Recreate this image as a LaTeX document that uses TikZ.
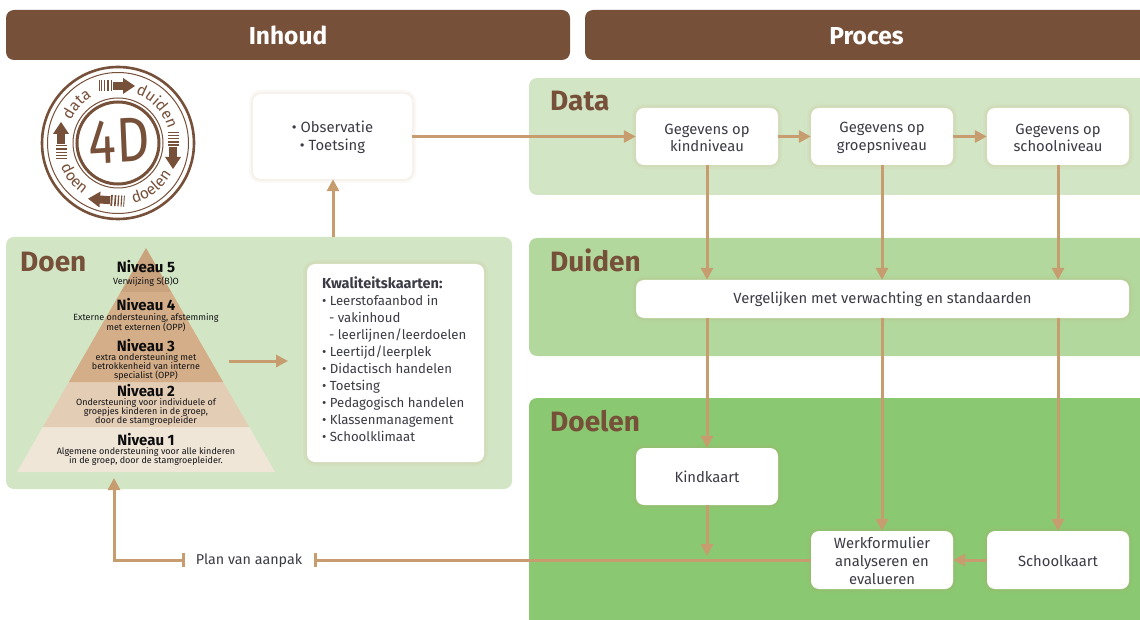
\documentclass[tikz,border=0pt]{standalone}
\usepackage{fontspec}
\setmainfont{Fira Sans}
\usetikzlibrary{calc,arrows.meta,decorations.text}
\definecolor{hdr}{HTML}{775039}
\definecolor{pdata}{HTML}{D2E6C5}
\definecolor{pduiden}{HTML}{B2D89D}
\definecolor{pdoelen}{HTML}{8AC872}
\definecolor{arr}{HTML}{C79C6E}
\definecolor{ink}{HTML}{3B3B45}
\definecolor{nivA}{HTML}{F0E6D8}
\definecolor{nivB}{HTML}{E4CDB5}
\definecolor{nivC}{HTML}{D3AE88}
\newcommand{\fsz}[1]{\fontsize{#1}{#1}\selectfont}
\newcommand{\tl}{\rule{0pt}{13pt}}
\tikzset{
  header/.style={fill=hdr,rounded corners=8pt,text=white,font=\fsz{24.5}\fontseries{sb}\selectfont},
  panel/.style={rounded corners=8pt},
  ptitle/.style={text=hdr,font=\fsz{28}\fontseries{sb}\selectfont,anchor=west,inner sep=0pt},
  whitebox/.style={fill=white,rounded corners=8pt,text=ink,font=\fsz{14.8}\selectfont,align=center,inner sep=0pt,
    preaction={draw=arr,line width=8pt,opacity=.06},preaction={draw=arr,line width=4pt,opacity=.08}},
  conn/.style={draw=arr,line width=3pt,-{Triangle[length=12pt,width=12pt]}},
  line/.style={draw=arr,line width=3pt},
  niv/.style={font=\fsz{15}\fontseries{sb}\selectfont,text=black!80!ink,inner sep=0pt},
  nivsub/.style={font=\fsz{9}\selectfont,text=black!70!ink,align=center,inner sep=0pt},
  stamptext/.style={decorate,decoration={text along path,text={|\fsz{15.5}\fontseries{m}\selectfont\color{hdr}|#1},text align=center}},
}
\pgfmathsetmacro{\pk}{129/224}
\newcommand{\layer}[3]{\fill[#3] ({146-(#1-248)*\pk},#1) -- ({146+(#1-248)*\pk},#1) -- ({146+(#2-248)*\pk},#2) -- ({146-(#2-248)*\pk},#2) -- cycle;}
% stamp arrow: pointing along +x in local frame
\newcommand{\stamparrow}[3]{\begin{scope}[shift={(#1,#2)},rotate=#3,x=1pt,y=1pt,hdr]
  \fill (-3,-4) rectangle (7,4);
  \fill (7,-8) -- (19,0) -- (7,8) -- cycle;
  \foreach \sx/\w in {-5.5/1.8,-9/1.6,-12/1.3,-15/1.1,-17.5/.9}{\fill (\sx,-5.5) rectangle ++(\w,11);}
\end{scope}}
\begin{document}
\begin{tikzpicture}[x=1pt,y=-1pt]
\useasboundingbox (0,0) rectangle (1140,620);
\fill[white] (0,0) rectangle (1140,620);
% headers
\node[header,minimum width=564pt,minimum height=50pt] (inhoud) at (288,35) {\rule{0pt}{19pt}Inhoud};
\node[header,minimum width=563pt,minimum height=50pt] (proces) at (866.5,35) {\rule{0pt}{19pt}Proces};
% panels
\fill[pdata,panel] (6,237) rectangle (512,489);
\fill[pdata,panel] (529,78) rectangle (1150,195);
\fill[pduiden,panel] (529,238) rectangle (1150,356);
\fill[pdoelen,panel] (529,398) rectangle (1150,640);
\node[ptitle] (tdoen) at (20,262) {Doen};
\node[ptitle] (tdata) at (550,101) {Data};
\node[ptitle] (tduiden) at (550,260) {Duiden};
\node[ptitle] (tdoelen) at (550,421) {Doelen};
% logo
\draw[hdr,line width=2.6pt] (118,143) circle (76);
\draw[hdr,line width=1pt] (118,143) circle (70.5);
\draw[hdr,line width=3pt] (118,143) circle (41);
\draw[hdr,line width=1pt] (118,143) circle (45);
\node[text=hdr,font=\fsz{63}\fontseries{m}\selectfont,xscale=.82,rotate=3,inner sep=0pt] (fourd) at (119,141) {4D};
\stamparrow{116}{86}{0}\stamparrow{173}{150}{-90}\stamparrow{107}{200}{-184}\stamparrow{61}{141}{-270}
\begin{scope}[shift={(118,143)},x=1pt,y=1pt]
\path[stamptext=data] (167:52.5) arc[start angle=167,end angle=107,radius=52.5];
\path[stamptext=duiden] (75:52) arc[start angle=75,end angle=11,radius=52];
\path[stamptext=doelen] (-85:62) arc[start angle=-85,end angle=-21,radius=62];
\path[stamptext=doen] (-170:62) arc[start angle=-170,end angle=-112,radius=62];
\end{scope}
% pyramid
\layer{427}{472}{nivA}
\layer{382}{427}{nivB}
\layer{337}{382}{nivC}
\layer{292}{337}{nivC}
\layer{248}{292}{nivC!88!hdr}
\node[niv] (n5) at (146,267) {Niveau 5};
\node[nivsub] (s5) at (146,281.5) {Verwijzing S(B)O};
\node[niv] (n4) at (146,305) {Niveau 4};
\node[nivsub] (s4) at (146,322.5) {Externe ondersteuning, afstemming\\met externen (OPP)};
\node[niv] (n3) at (146,346) {Niveau 3};
\node[nivsub] (s3) at (146,367) {extra ondersteuning met\\betrokkenheid van interne\\specialist (OPP)};
\node[niv] (n2) at (146,391) {Niveau 2};
\node[nivsub] (s2) at (146,412) {Ondersteuning voor individuele of\\groepjes kinderen in  de groep,\\door de stamgroepleider};
\node[niv] (n1) at (146,440) {Niveau 1};
\node[nivsub] (s1) at (146,456.5) {Algemene ondersteuning voor  alle kinderen\\in de groep, door de stamgroepleider.};
% boxes
\node[whitebox,minimum width=159pt,minimum height=85pt] (obs) at (332.5,136.5) {\tl\textbullet{} Observatie\\[3pt]\textbullet{} Toetsing};
\node[whitebox,minimum width=142pt,minimum height=57pt] (kind) at (707,136.5) {\tl Gegevens op\\[3pt]kindniveau};
\node[whitebox,minimum width=142pt,minimum height=57pt] (groep) at (882,136.5) {\tl Gegevens op\\[3pt]groepsniveau};
\node[whitebox,minimum width=142pt,minimum height=57pt] (school) at (1058,136.5) {\tl Gegevens op\\[3pt]schoolniveau};
\node[whitebox,minimum width=493pt,minimum height=38pt] (verg) at (882.5,299) {Vergelijken met verwachting en standaarden};
\node[whitebox,minimum width=142pt,minimum height=57pt] (kk) at (707,476.5) {Kindkaart};
\node[whitebox,minimum width=142pt,minimum height=58pt] (werk) at (882,560) {\tl Werkformulier\\[3pt]analyseren en\\[3pt]evalueren};
\node[whitebox,minimum width=142pt,minimum height=58pt] (sk) at (1058,560) {\tl Schoolkaart};
\node[whitebox,minimum width=177pt,minimum height=198pt,font=\fsz{13.2}\selectfont] (kwal) at (395.5,363) {%
\begin{minipage}[c][198pt][t]{147pt}\vspace*{13pt}\baselineskip=17pt\raggedright
{\fsz{14.5}\fontseries{b}\selectfont Kwaliteitskaarten:}\\
\textbullet{} Leerstofaanbod in\\
\hspace*{7pt}- vakinhoud\\
\hspace*{7pt}- leerlijnen/leerdoelen\\
\textbullet{} Leertijd/leerplek\\
\textbullet{} Didactisch handelen\\
\textbullet{} Toetsing\\
\textbullet{} Pedagogisch handelen\\
\textbullet{} Klassenmanagement\\
\textbullet{} Schoolklimaat
\end{minipage}};
\node[text=ink,font=\fsz{14.3}\selectfont,inner sep=0pt,minimum width=132pt,minimum height=20pt] (plan) at (249,561) {Plan van aanpak};
% named free ends
\coordinate (doentop) at (333,237);
\coordinate (doenarrA) at (229,361);
\coordinate (doenarrB) at (288,361);
\coordinate (pyrbase) at (114,478);
\coordinate (corner) at (114,560);
\coordinate (planW) at (183,560);
\coordinate (planE) at (315,560);
\coordinate (kkend) at (707,556);
% connectors
\draw[conn] (doentop) -- (obs.south -| doentop);
\draw[conn] (obs.east |- kind.west) -- (kind.west);
\draw[conn] (kind.east) -- (groep.west);
\draw[conn] (groep.east) -- (school.west);
\draw[conn] (kind.south) -- (kind.south |- verg.north);
\draw[conn] (groep.south) -- (groep.south |- verg.north);
\draw[conn] (school.south) -- (school.south |- verg.north);
\draw[conn] (verg.south -| kk.north) -- (kk.north);
\draw[conn] (verg.south -| werk.north) -- (werk.north);
\draw[conn] (verg.south -| sk.north) -- (sk.north);
\draw[line] (werk.west) -- (planE);
\draw[conn] (kk.south) -- (kkend);
\draw[conn] (sk.west) -- (werk.east);
\draw[conn] (planW) -- (corner) -- (pyrbase);
\draw[arr,line width=3pt] ($(planW)+(0,-7)$) -- ($(planW)+(0,7)$);
\draw[arr,line width=3pt] ($(planE)+(0,-7)$) -- ($(planE)+(0,7)$);
\draw[conn] (doenarrA) -- (doenarrB);
\end{tikzpicture}
\end{document}
